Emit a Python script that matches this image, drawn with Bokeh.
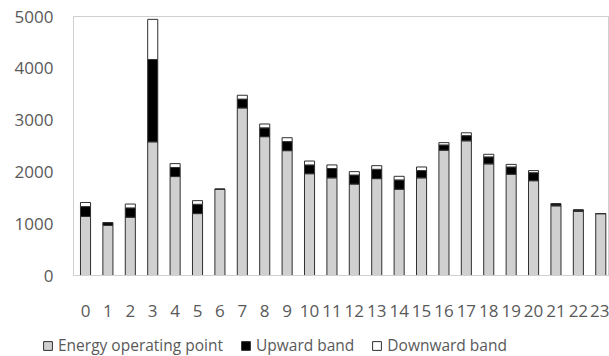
from bokeh.plotting import figure
from bokeh.layouts import column
from bokeh.models import ColumnDataSource, Legend, LegendItem, FixedTicker, Range1d
from bokeh.embed import file_html
from bokeh.resources import INLINE

# Hourly energy operating point with upward / downward reserve bands
hours = list(range(24))
energy = [1140, 970, 1125, 2580, 1910, 1195, 1665, 3235, 2680, 2410, 1965, 1885,
          1765, 1870, 1665, 1885, 2420, 2600, 2155, 1955, 1830, 1345, 1240, 1195]
upward = [190, 50, 180, 1590, 175, 180, 0, 170, 170, 175, 170, 180,
          175, 180, 180, 140, 100, 100, 135, 140, 155, 40, 25, 0]
downward = [80, 0, 75, 775, 75, 70, 0, 75, 75, 75, 75, 70,
            65, 70, 70, 70, 45, 55, 50, 50, 40, 0, 0, 0]
series = ["Energy operating point", "Upward band", "Downward band"]
fills = ["#d0d0d0", "#000000", "#ffffff"]

src = ColumnDataSource(dict(hour=hours, energy=energy, upward=upward, downward=downward))

FONT = "Open Sans"
TXT = "#595959"
EDGE = "#303030"

p = figure(frame_width=536, frame_height=259, output_backend="svg", toolbar_location=None,
           x_range=(-0.536, 23.39), y_range=(0, 5000),
           min_border_left=73, min_border_top=16, min_border_right=0,
           min_border_bottom=51)

p.vbar_stack(["energy", "upward", "downward"], x="hour", width=0.45,
             source=src, fill_color=fills, line_color=EDGE, line_width=1)

p.xgrid.visible = False
p.ygrid.visible = False
p.outline_line_color = "#cfcfcf"
p.outline_line_width = 1
p.background_fill_color = "white"
p.border_fill_color = "white"

xa = p.xaxis[0]
xa.ticker = FixedTicker(ticks=hours)
xa.axis_line_color = "#cfcfcf"
xa.major_tick_line_color = None
xa.minor_tick_line_color = None
xa.major_tick_in = 0
xa.major_tick_out = 0
xa.major_label_standoff = 29
xa.major_label_text_font = FONT
xa.major_label_text_font_size = "17px"
xa.major_label_text_color = TXT

ya = p.yaxis[0]
ya.ticker = FixedTicker(ticks=[0, 1000, 2000, 3000, 4000, 5000])
ya.axis_line_color = None
ya.major_tick_line_color = None
ya.minor_tick_line_color = None
ya.major_tick_out = 0
ya.major_label_standoff = 20
ya.major_label_text_font = FONT
ya.major_label_text_font_size = "17px"
ya.major_label_text_color = TXT

# Legend strip underneath the chart; the swatch renderers sit outside the
# visible range so only their legend glyphs show
leg = figure(width=609, height=30, output_backend="svg", toolbar_location=None,
             x_range=Range1d(0, 1), y_range=Range1d(0, 1),
             x_axis_location=None, y_axis_location=None,
             min_border=0, min_border_left=0, outline_line_color=None)
leg.xgrid.visible = False
leg.ygrid.visible = False
swatches = [leg.vbar(x=[10], top=[10], width=0.5, fill_color=c, line_color=EDGE)
            for c in fills]

legend = Legend(items=[LegendItem(label=s, renderers=[r]) for s, r in zip(series, swatches)],
                orientation="horizontal", location=(42, 0),
                label_text_font=FONT, label_text_font_size="15.5px",
                label_text_color=TXT, glyph_width=11, glyph_height=11,
                label_standoff=5, spacing=17, padding=0, margin=0,
                border_line_color=None, background_fill_alpha=0)
leg.add_layout(legend, "center")

open("out.html", "w").write(file_html(column(p, column(leg, spacing=0), spacing=0), INLINE))
